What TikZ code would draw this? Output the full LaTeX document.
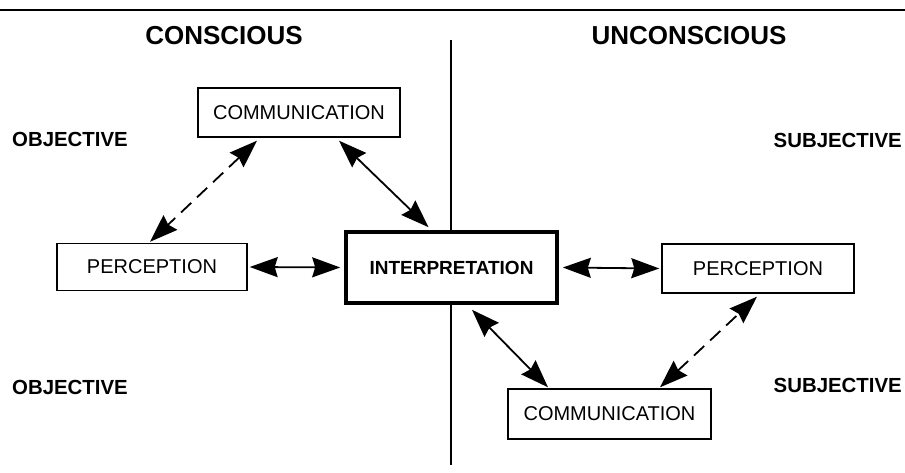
\documentclass[tikz,border=0pt]{standalone}
\usepackage{fontspec}
\setmainfont{Liberation Sans}
\usetikzlibrary{arrows.meta}
\begin{document}
\begin{tikzpicture}[x=1pt,y=1pt,
  tip/.tip={Stealth[length=28pt,width=20pt,inset=3pt]},
  box/.style={draw, line width=1.4pt, fill=white, inner sep=0pt,
    font=\fontsize{20}{24}\selectfont},
  mainbox/.style={draw, line width=3.6pt, fill=white, inner sep=0pt,
    font=\bfseries\fontsize{19}{23}\selectfont},
  heading/.style={inner sep=0pt, anchor=base, font=\bfseries\fontsize{26}{31}\selectfont},
  side/.style={inner sep=0pt, font=\bfseries\fontsize{20.4}{24}\selectfont},
  link/.style={line width=1.8pt, tip-tip},
  dlink/.style={link, dash pattern=on 14pt off 8pt}
]
\useasboundingbox (0,0) rectangle (905,473);
% rules
\coordinate (tl) at (0,463);
\coordinate (tr) at (905,463);
\coordinate (vt) at (451,433);
\coordinate (vb) at (451,8);
\draw[line width=1.3pt] (tl) -- (tr);
\draw[line width=1.2pt] (vt) -- (vb);
% headings
\node[heading] (hc) at (224,428) {CONSCIOUS};
\node[heading] (hu) at (689,428) {UNCONSCIOUS};
\node[side, anchor=base west] (o1) at (12,326) {OBJECTIVE};
\node[side, anchor=base west] (o2) at (12,78) {OBJECTIVE};
\node[side, anchor=base east] (s1) at (902,325) {SUBJECTIVE};
\node[side, anchor=base east] (s2) at (902,80) {SUBJECTIVE};
% boxes
\node[box, minimum width=202pt, minimum height=49pt] (ct) at (299,360.5) {COMMUNICATION};
\node[box, minimum width=190pt, minimum height=47pt] (pl) at (152,206) {PERCEPTION};
\node[mainbox, minimum width=211pt, minimum height=71pt] (in) at (451.5,205.5) {INTERPRETATION};
\node[box, minimum width=192pt, minimum height=49pt] (pr) at (758,204.5) {PERCEPTION};
\node[box, minimum width=203pt, minimum height=50pt] (cb) at (609.5,59) {COMMUNICATION};
% connectors
\draw[dlink] ([xshift=-42pt,yshift=-3pt]ct.south) -- ([xshift=-2pt,yshift=1pt]pl.north);
\draw[link] ([xshift=40pt,yshift=-3pt]ct.south) -- ([xshift=-23pt,yshift=3pt]in.north);
\draw[link] ([xshift=2pt]pl.east) -- ([xshift=-4pt]in.west);
\draw[link] ([xshift=4pt]in.east) -- ([xshift=-2pt]pr.west);
\draw[link] ([xshift=20.5pt,yshift=-5pt]in.south) -- ([xshift=-61.5pt,yshift=1pt]cb.north);
\draw[dlink] ([xshift=50.5pt,yshift=1pt]cb.north) -- ([xshift=-1pt,yshift=-3pt]pr.south);
\end{tikzpicture}
\end{document}
